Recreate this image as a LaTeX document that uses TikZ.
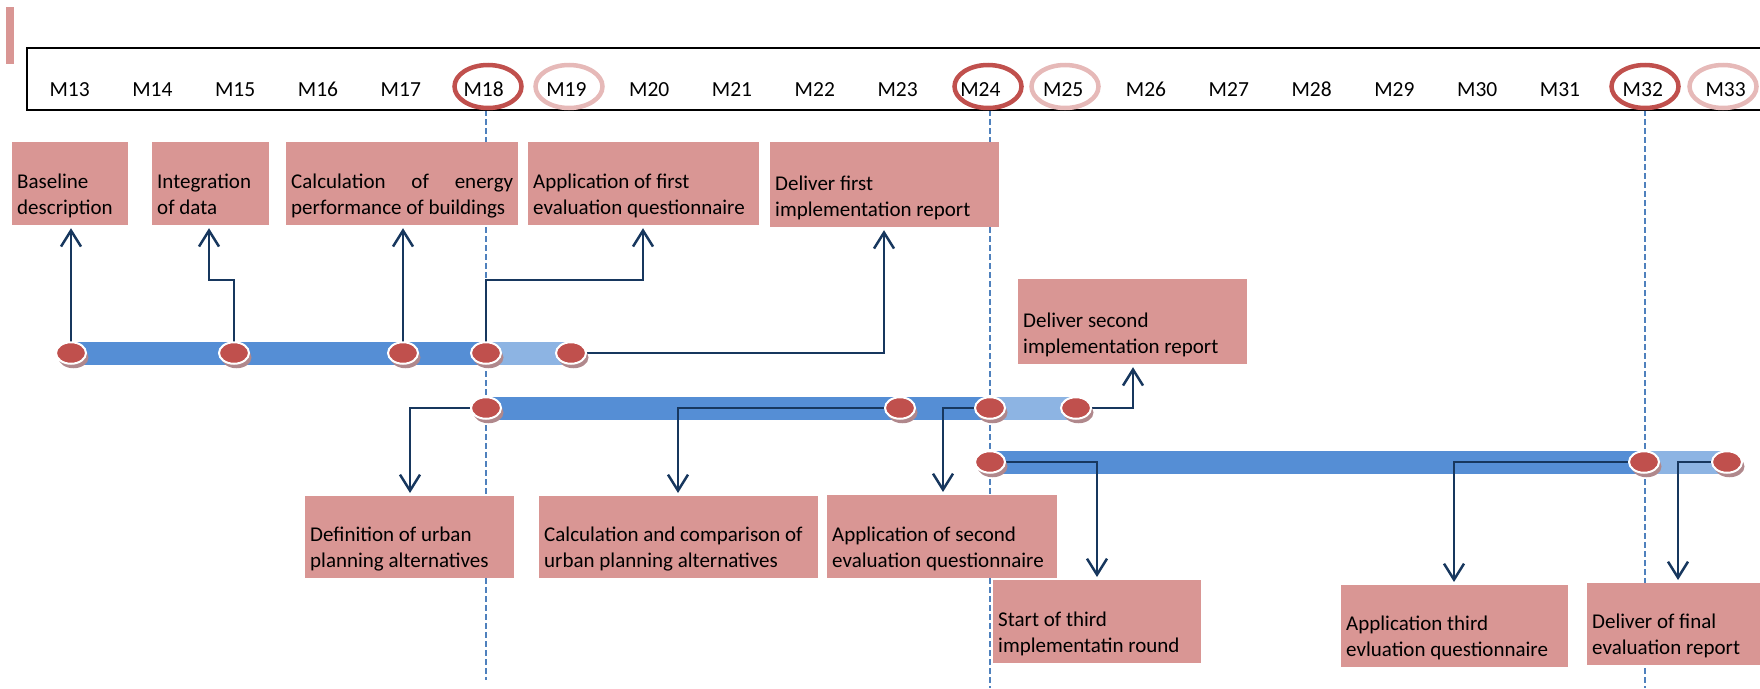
\documentclass[tikz,border=0pt]{standalone}
\usepackage{fontspec}
\setmainfont{Carlito}
\usetikzlibrary{arrows.meta,shapes.geometric,shadows}
\definecolor{boxpink}{RGB}{217,150,148}
\definecolor{mkred}{RGB}{192,80,77}
\definecolor{mkpink}{RGB}{230,185,184}
\definecolor{bardark}{RGB}{85,142,213}
\definecolor{barlight}{RGB}{141,180,227}
\definecolor{navy}{RGB}{23,55,94}
\definecolor{guide}{RGB}{79,129,189}
\definecolor{dotshadow}{RGB}{176,136,140}
\pgfdeclarelayer{bg}
\pgfdeclarelayer{mid}
\pgfsetlayers{bg,mid,main}

% text block of a task box: fixed height, lines sitting at the bottom
\newcommand{\btext}[3]{\begin{minipage}[c][#1pt][b]{#2pt}\raggedright #3\strut\end{minipage}}

\begin{document}
\begin{tikzpicture}[x=1pt,y=-1pt,
  txt/.style={font=\fontsize{21}{26}\selectfont},
  evbox/.style={txt, fill=boxpink, anchor=north west, inner xsep=5pt, inner ysep=3pt},
  monthlbl/.style={font=\fontsize{21.5}{26}\selectfont, anchor=base},
  ring/.style={ellipse, draw=#1, line width=4.5pt, minimum width=67pt, minimum height=43pt, inner sep=0pt},
  milestone/.style={ellipse, fill=mkred, draw=white, line width=2pt, minimum width=30pt, minimum height=21.5pt, inner sep=0pt,
    drop shadow={shadow xshift=2.5pt, shadow yshift=-4.5pt, fill=dotshadow, opacity=1}},
  conn/.style={draw=navy, line width=2.5pt, -{Straight Barb[length=16pt,width=20pt]}, shorten >=3pt},
  guideline/.style={draw=guide, line width=2pt, dash pattern=on 6pt off 3pt},
  evbar/.style={line width=23pt, draw=#1}
]
\useasboundingbox (0,0) rectangle (1760,688);

% corner mark and month strip
\fill[boxpink] (6,7) rectangle (14,64);
\draw[line width=2pt] (27,48) rectangle (1790,110);
\foreach \i in {13,...,33}{
  \pgfmathsetmacro\mx{69.6+(\i-13)*82.8}
  \node[monthlbl] (m\i) at (\mx,96) {M\i};
}
\node[ring=mkred]  (r18) at (488,86.5) {};
\node[ring=mkpink] (r19) at (569,86.5) {};
\node[ring=mkred]  (r24) at (988,86.5) {};
\node[ring=mkpink] (r25) at (1065,86.5) {};
\node[ring=mkred]  (r32) at (1645,86.5) {};
\node[ring=mkpink] (r33) at (1723,86.5) {};

% milestone dots on the three phase bars
\node[milestone] (d11) at (71,353) {};
\node[milestone] (d12) at (234,353) {};
\node[milestone] (d13) at (403,353) {};
\node[milestone] (d14) at (486,353) {};
\node[milestone] (d15) at (571,353) {};
\node[milestone] (d21) at (486,408) {};
\node[milestone] (d22) at (900,408) {};
\node[milestone] (d23) at (990,408) {};
\node[milestone] (d24) at (1076,408) {};
\node[milestone] (d31) at (990,462) {};
\node[milestone] (d32) at (1644,462) {};
\node[milestone] (d33) at (1727,462) {};

% task boxes
\node[evbox] (b1) at (12,142) {\btext{69}{106}{Baseline\\description}};
\node[evbox] (b2) at (152,142) {\btext{69}{107}{Integration\\of data}};
\node[evbox] (b3) at (286,142) {\btext{69}{222}{\makebox[\linewidth][s]{Calculation of energy}\\performance of buildings}};
\node[evbox] (b4) at (528,142) {\btext{69}{221}{Application of first\\evaluation questionnaire}};
\node[evbox] (b5) at (770,142) {\btext{71}{219}{Deliver first\\implementation report}};
\node[evbox] (b12) at (1018,279) {\btext{71}{219}{Deliver second\\implementation report}};
\node[evbox] (b6) at (305,496) {\btext{68}{199}{Definition of urban\\planning alternatives}};
\node[evbox] (b7) at (539,496) {\btext{68}{269}{Calculation and comparison of\\urban planning alternatives}};
\node[evbox] (b8) at (827,495) {\btext{69}{220}{Application of second\\evaluation questionnaire}};
\node[evbox] (b9) at (993,580) {\btext{69}{198}{Start of third\\implementatin round}};
\node[evbox] (b10) at (1341,585) {\btext{68}{217}{Application third\\evluation questionnaire}};
\node[evbox] (b11) at (1587,583) {\btext{68}{170}{Deliver of final\\evaluation report}};

% bend points of the connectors
\coordinate (k2) at (209,280);
\coordinate (k4) at (643,280);
\coordinate (k5) at (884,300);
\coordinate (k6) at (410,450);
\coordinate (k7) at (678,450);
\coordinate (k8) at (943,450);
\coordinate (k9) at (1133,380);
\coordinate (k10) at (1097,520);
\coordinate (k11) at (1454,520);
\coordinate (k12) at (1678,520);

\begin{pgfonlayer}{bg}
  \draw[guideline] (486,110) -- (486,680);
  \draw[guideline] (990,110) -- (990,688);
  \draw[guideline] (1645,110) -- (1645,688);
  \draw[evbar=bardark]  (d11.center) -- (d14.center);
  \draw[evbar=barlight] (d14.center) -- (d15.center);
  \draw[evbar=bardark]  (d21.center) -- (d23.center);
  \draw[evbar=barlight] (d23.center) -- (d24.center);
  \draw[evbar=bardark]  (d31.center) -- (d32.center);
  \draw[evbar=barlight] (d32.center) -- (d33.center);
\end{pgfonlayer}

\begin{pgfonlayer}{mid}
  \draw[conn] (d11.center) -- (d11.center |- b1.south);
  \draw[conn] (d12.center) |- (k2) -- (k2 |- b2.south);
  \draw[conn] (d13.center) -- (d13.center |- b3.south);
  \draw[conn] (d14.center) |- (k4) -- (k4 |- b4.south);
  \draw[conn] (d15.center) -| (k5 |- b5.south);
  \draw[conn] (d21.center) -| (k6 |- b6.north);
  \draw[conn] (d22.center) -| (k7 |- b7.north);
  \draw[conn] (d23.center) -| (k8 |- b8.north);
  \draw[conn] (d24.center) -| (k9 |- b12.south);
  \draw[conn] (d31.center) -| (k10 |- b9.north);
  \draw[conn] (d32.center) -| (k11 |- b10.north);
  \draw[conn] (d33.center) -| (k12 |- b11.north);
\end{pgfonlayer}
\end{tikzpicture}
\end{document}
